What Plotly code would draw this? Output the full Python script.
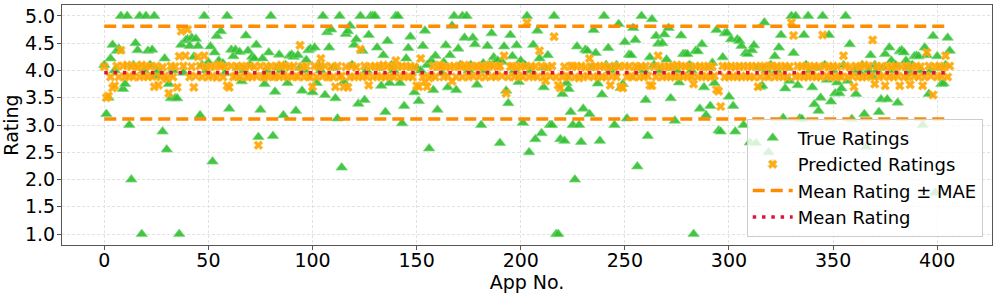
import plotly.graph_objects as go

# ---- data ----
true_ratings = [
    4.1, 3.2, 3.5, 4.22, 4.47, 4.0, 4.36, 4.4, 5.0, 3.66,
    3.75, 5.0, 3.0, 2.0, 4.1, 4.5, 4.37, 5.0, 1.0, 4.0,
    5.0, 4.36, 4.1, 4.38, 5.0, 3.9, 4.0, 3.95, 2.88, 4.22,
    2.55, 3.75, 3.49, 4.0, 3.49, 3.49, 1.0, 4.47, 3.96, 4.55,
    4.57, 4.45, 4.6, 4.25, 4.58, 4.45, 3.18, 4.1, 5.0, 4.0,
    4.15, 4.44, 2.33, 4.33, 4.63, 4.18, 4.72, 4.13, 3.95, 5.0,
    3.3, 4.38, 4.26, 4.38, 4.05, 4.34, 3.8, 4.0, 4.64, 4.36,
    4.1, 4.25, 4.22, 4.47, 2.78, 3.28, 4.22, 3.75, 4.0, 4.33,
    5.0, 2.8, 3.61, 4.05, 4.29, 4.0, 3.18, 4.1, 3.77, 4.27,
    4.29, 4.25, 3.26, 4.28, 4.05, 3.63, 4.0, 4.19, 4.37, 4.4,
    3.6, 4.42, 3.77, 4.1, 4.0, 5.0, 3.55, 4.7, 4.42, 4.75,
    4.05, 3.49, 3.12, 5.0, 2.22, 3.79, 4.67, 4.72, 4.82, 4.1,
    4.47, 4.57, 3.39, 5.0, 4.36, 3.46, 4.0, 4.65, 5.0, 5.0,
    5.0, 4.42, 4.05, 3.72, 4.28, 3.24, 4.54, 3.77, 4.1, 4.0,
    5.0, 5.0, 3.77, 3.03, 3.35, 4.22, 4.41, 4.62, 4.05, 3.6,
    4.05, 3.44, 4.0, 4.45, 4.73, 4.1, 2.57, 4.18, 3.64, 4.27,
    3.28, 4.05, 3.95, 4.15, 4.46, 3.69, 4.28, 4.82, 5.0, 3.64,
    4.4, 4.1, 5.0, 4.6, 5.0, 4.0, 4.1, 4.6, 4.48, 3.74,
    4.05, 3.0, 4.13, 4.0, 4.45, 4.1, 4.68, 4.24, 4.17, 4.18,
    2.67, 4.16, 4.44, 3.63, 3.4, 4.65, 4.26, 4.0, 4.46, 3.79,
    4.18, 3.04, 4.1, 5.0, 2.5, 4.0, 4.47, 2.74, 4.73, 4.22,
    2.85, 3.69, 4.05, 4.28, 3.0, 3.0, 5.0, 1.0, 1.0, 2.74,
    3.57, 2.71, 3.77, 3.66, 3.24, 3.0, 2.0, 4.44, 3.0, 2.69,
    3.3, 4.38, 4.36, 3.2, 4.05, 4.74, 4.32, 3.76, 2.71, 3.56,
    5.0, 4.1, 4.41, 4.0, 4.05, 3.0, 4.1, 4.85, 3.68, 3.75,
    4.52, 3.12, 4.29, 4.28, 4.78, 4.56, 2.24, 4.05, 5.0, 4.0,
    3.46, 2.8, 4.24, 4.94, 4.1, 4.63, 4.49, 4.0, 4.5, 4.66,
    4.2, 4.78, 3.49, 4.05, 3.08, 4.0, 3.78, 4.64, 4.3, 4.3,
    4.3, 4.1, 4.0, 1.0, 4.36, 4.35, 3.3, 4.48, 3.69, 3.18,
    4.05, 3.35, 4.14, 3.77, 4.74, 2.9, 2.88, 4.24, 4.68, 4.69,
    3.52, 4.57, 3.35, 2.88, 4.57, 4.54, 4.45, 3.0, 4.32, 4.3,
    2.68, 4.37, 4.46, 2.67, 4.05, 3.7, 3.72, 4.88, 4.0, 2.5,
    4.1, 2.29, 4.26, 4.0, 4.42, 4.65, 3.13, 3.67, 4.05, 3.81,
    5.0, 4.32, 5.0, 3.73, 3.12, 3.11, 4.65, 4.1, 5.0, 4.0,
    3.69, 3.38, 4.05, 3.26, 3.5, 5.0, 4.1, 3.83, 4.65, 3.43,
    4.0, 3.58, 3.78, 3.58, 3.67, 4.1, 5.0, 3.81, 4.48, 3.11,
    4.0, 3.57, 4.05, 3.95, 4.1, 3.2, 2.6, 4.0, 4.28, 3.88,
    4.1, 4.0, 3.24, 3.47, 4.05, 4.3, 3.47, 4.42, 4.18, 4.0,
    4.1, 3.41, 4.35, 4.37, 4.33, 4.18, 4.04, 3.95, 4.1, 4.26,
    4.27, 4.26, 4.0, 3.0, 4.42, 4.28, 3.57, 4.0, 4.63, 1.76,
    4.26, 4.05, 3.75, 3.76, 4.1, 4.6, 4.36,
]

predicted_ratings = [
    4.07, 3.5, 3.53, 3.88, 3.68, 3.72, 4.08, 3.88, 4.37, 4.08,
    3.88, 4.1, 3.9, 4.07, 3.88, 4.08, 4.06, 3.88, 4.1, 3.9,
    4.08, 3.88, 4.07, 3.89, 3.7, 4.08, 3.73, 3.88, 4.06, 3.9,
    3.85, 3.58, 4.08, 3.88, 4.07, 3.69, 4.26, 4.72, 4.08, 4.27,
    4.75, 3.88, 4.07, 3.69, 3.9, 4.25, 4.08, 3.88, 4.27, 4.06,
    3.88, 4.08, 3.9, 4.07, 3.87, 4.1, 4.08, 3.88, 4.07, 3.72,
    3.69, 4.08, 3.88, 3.9, 4.07, 3.88, 4.08, 4.06, 3.89, 3.88,
    4.08, 3.88, 4.07, 3.9, 2.63, 4.08, 3.88, 3.88, 4.07, 3.9,
    4.08, 3.88, 3.89, 4.07, 3.88, 4.1, 3.9, 4.08, 3.88, 4.06,
    3.88, 4.08, 3.9, 3.88, 4.46, 4.07, 3.88, 4.08, 3.89, 3.88,
    3.7, 4.08, 3.88, 4.07, 4.22, 3.9, 4.08, 3.88, 3.88, 4.07,
    3.88, 3.7, 4.08, 3.88, 3.9, 3.7, 4.07, 3.69, 3.88, 4.08,
    3.88, 4.06, 3.9, 4.39, 3.88, 4.08, 3.89, 3.73, 4.07, 3.88,
    4.08, 3.9, 4.07, 3.88, 4.1, 3.88, 4.08, 3.89, 4.06, 3.88,
    4.18, 4.07, 3.88, 4.08, 3.9, 4.07, 3.88, 4.08, 3.88, 4.06,
    3.72, 3.7, 4.22, 3.88, 3.8, 3.7, 3.86, 3.9, 4.08, 3.88,
    4.07, 4.1, 4.08, 3.88, 4.07, 3.9, 4.06, 3.8, 4.08, 3.88,
    4.07, 4.08, 3.88, 4.1, 4.06, 3.88, 4.08, 3.9, 4.07, 4.08,
    3.88, 4.08, 4.06, 3.88, 4.07, 4.1, 3.89, 4.08, 3.88, 4.07,
    4.08, 3.9, 4.27, 3.58, 3.88, 4.07, 4.08, 3.88, 4.06, 3.9,
    4.08, 3.88, 4.07, 4.88, 3.88, 4.08, 3.9, 4.07, 3.88, 4.36,
    4.08, 3.88, 3.81, 4.06, 3.9, 4.08, 4.62, 3.88, 3.73, 3.68,
    3.88, 4.07, 3.9, 3.88, 4.08, 4.08, 3.88, 4.07, 3.86, 4.08,
    3.88, 4.06, 3.9, 4.22, 4.07, 3.88, 4.08, 3.89, 4.07, 3.88,
    4.08, 3.88, 4.06, 3.73, 3.9, 4.08, 3.88, 4.07, 3.7, 3.68,
    4.08, 3.88, 4.07, 3.9, 3.88, 4.08, 4.06, 3.88, 4.07, 3.88,
    4.08, 3.9, 3.73, 3.72, 4.07, 3.88, 4.27, 4.08, 3.88, 4.06,
    3.9, 4.08, 3.88, 4.07, 3.88, 4.1, 3.89, 4.08, 3.88, 4.07,
    3.9, 4.08, 3.88, 3.75, 4.07, 3.88, 4.08, 3.9, 4.06, 3.88,
    4.08, 3.88, 4.07, 3.9, 3.65, 3.62, 3.34, 4.08, 3.88, 4.07,
    3.88, 4.08, 3.9, 4.06, 3.88, 4.08, 3.88, 4.07, 3.9, 4.08,
    3.88, 4.07, 3.88, 4.08, 3.7, 3.88, 4.06, 4.08, 3.9, 3.88,
    4.08, 4.07, 3.88, 4.08, 3.9, 4.06, 3.88, 4.08, 3.88, 4.07,
    4.88, 4.64, 3.88, 4.08, 3.9, 4.07, 3.88, 4.08, 3.88, 4.06,
    3.9, 4.08, 3.88, 4.07, 3.88, 4.65, 4.08, 3.9, 4.06, 3.88,
    4.08, 3.88, 4.07, 3.9, 3.88, 4.27, 4.08, 3.88, 4.06, 3.9,
    3.7, 4.08, 3.88, 4.07, 3.88, 4.1, 3.88, 4.08, 3.9, 4.56,
    3.75, 4.08, 3.88, 4.07, 3.9, 3.72, 4.08, 3.88, 4.06, 3.88,
    4.08, 3.9, 3.72, 4.07, 3.88, 4.08, 3.88, 3.74, 4.06, 3.9,
    4.08, 3.88, 4.07, 3.72, 3.88, 4.33, 4.08, 3.9, 3.55, 4.07,
    3.88, 4.08, 3.9, 4.06, 4.27, 3.88, 4.08,
]

app_no = list(range(len(true_ratings)))

mean_rating = 3.96
mae = 0.85

x_tick_vals = [0, 50, 100, 150, 200, 250, 300, 350, 400]
y_tick_vals = [1.0, 1.5, 2.0, 2.5, 3.0, 3.5, 4.0, 4.5, 5.0]
y_tick_text = ["1.0", "1.5", "2.0", "2.5", "3.0", "3.5", "4.0", "4.5", "5.0"]

x_first = app_no[0]
x_last = app_no[-1]

FONT = "DejaVu Sans"

fig = go.Figure()

fig.add_trace(go.Scatter(
    x=app_no, y=true_ratings, mode="markers", name="True Ratings",
    marker=dict(symbol="triangle-up", size=10, color="rgba(50,190,50,0.9)",
                line=dict(width=0.8, color="rgba(120,220,120,0.9)")),
))
fig.add_trace(go.Scatter(
    x=app_no, y=predicted_ratings, mode="markers", name="Predicted Ratings",
    marker=dict(symbol="x", size=8, color="rgba(255,165,0,0.9)",
                line=dict(width=0.6, color="rgba(255,190,60,0.9)")),
))
fig.add_trace(go.Scatter(
    x=[x_first, x_last, None, x_first, x_last],
    y=[mean_rating + mae, mean_rating + mae, None, mean_rating - mae, mean_rating - mae],
    mode="lines", name="Mean Rating \u00b1 MAE",
    line=dict(color="#FF8C00", width=3.5, dash="12px,6px"),
))
fig.add_trace(go.Scatter(
    x=[x_first, x_last], y=[mean_rating, mean_rating],
    mode="lines", name="Mean Rating",
    line=dict(color="crimson", width=3.5, dash="3.5px,5.8px"),
))

axis_common = dict(
    showline=True, mirror=True, linecolor="#555", linewidth=1,
    ticks="outside", ticklen=4, tickcolor="#555",
    showgrid=True, gridcolor="#e2e2e2", griddash="3px,2px", gridwidth=0.8,
    zeroline=False, automargin=False,
    tickfont=dict(family=FONT, size=19, color="black"),
)

fig.update_xaxes(
    range=[-20.3, 426.3], tickvals=x_tick_vals, ticklabelstandoff=-6,
    title=dict(text="App No.", font=dict(family=FONT, size=19, color="black"), standoff=0),
    **axis_common,
)
fig.update_yaxes(
    range=[0.8, 5.2], tickvals=y_tick_vals, ticktext=y_tick_text, ticklabelstandoff=-2,
    title=dict(text="Rating", font=dict(family=FONT, size=19, color="black"), standoff=2),
    **axis_common,
)

fig.update_layout(
    width=997, height=295,
    margin=dict(l=62, r=5, t=5, b=50, autoexpand=False),
    plot_bgcolor="white", paper_bgcolor="white",
    font=dict(family=FONT, color="black"),
    legend=dict(
        x=0.99, y=0.035, xanchor="right", yanchor="bottom",
        bgcolor="rgba(255,255,255,0.8)", bordercolor="#cccccc", borderwidth=1,
        font=dict(family=FONT, size=18, color="black"),
        itemwidth=40,
    ),
)

fig.write_html("out.html",
               config={"displayModeBar": False},
               post_script="document.body.style.margin='0';document.body.style.overflow='hidden';")
